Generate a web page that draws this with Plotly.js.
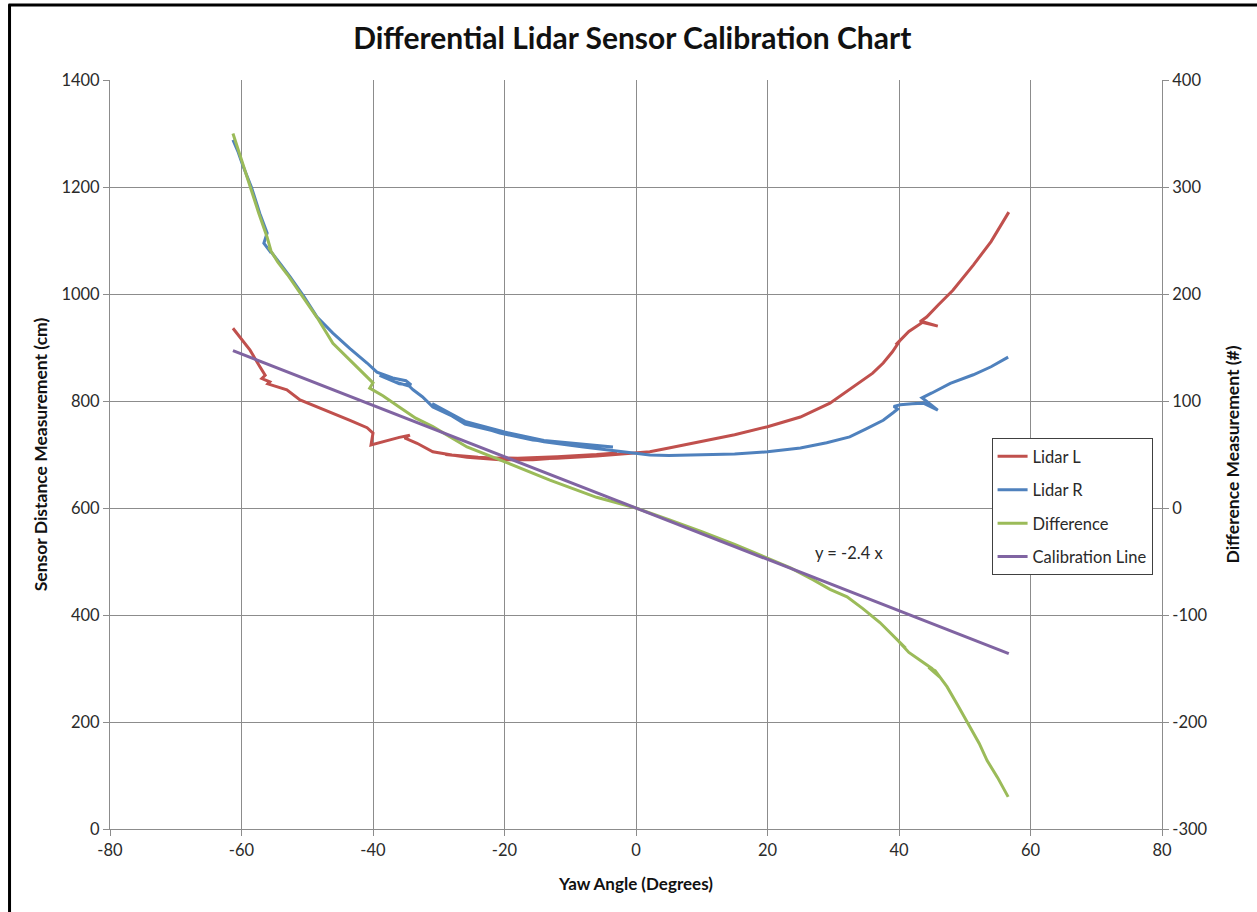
<!DOCTYPE html>
<html>
<head>
<meta charset="utf-8">
<script src="https://cdn.plot.ly/plotly-3.0.1.min.js"></script>
<style>html,body{margin:0;padding:0;background:#fff;}#chart{width:1257px;height:912px;}</style>
</head>
<body>
<div id="chart"></div>
<script>
// Lidar L (yaw in degrees, distance in cm)
const yawL = [-61.3,-60.0,-58.7,-57.2,-56.4,-56.9,-55.7,-56.0,-55.0,-53.1,-51.1,-48.5,-46.1,-43.5,-40.9,-40.0,-40.3,-38.0,-36.0,-34.4,-35.2,-33.3,-30.9,-28.0,-25.7,-20.7,-15.7,-10.5,-6.0,-2.9,-6.0,-12.0,-18.0,-24.0,-29.0,-24.0,-18.0,-12.0,-6.0,0.0,2.1,5.0,10.0,15.0,20.0,25.0,29.5,33.0,36.0,37.6,39.0,40.2,39.5,40.5,41.5,43.7,45.9,43.2,44.2,46.0,48.2,51.3,54.0,56.7];
const lidarL = [936,915,895,864,848,842,836,832,828,821,802,789,778,764,750,740,718,726,732,736,731,721,705,699,695,690,690,695,699,703,700,696,693,694,700,695,691,693,697,702,705,712,724,737,752,770,796,826,852,871,892,914,905,918,930,948,940,948,957,980,1007,1054,1098,1153];

// Lidar R
const yawR = [-61.3,-60.5,-59.8,-58.5,-57.2,-56.1,-56.6,-55.5,-55.9,-54.0,-52.6,-50.5,-48.5,-46.1,-43.5,-40.9,-39.4,-37.0,-35.0,-34.2,-36.0,-39.0,-36.5,-34.5,-33.9,-32.5,-30.9,-28.0,-25.7,-20.7,-15.7,-10.5,-6.0,-3.5,-8.0,-14.0,-20.0,-26.0,-31.0,-26.0,-20.0,-14.0,-8.0,-3.0,0.0,2.1,5.0,10.0,15.0,20.0,25.0,29.0,32.5,35.0,37.6,39.1,39.8,39.2,40.2,42.0,43.7,45.9,43.5,45.0,47.8,51.3,54.0,56.6];
const lidarR = [1288,1265,1240,1200,1150,1114,1095,1077,1085,1055,1032,995,957,927,898,871,854,843,838,830,832,848,835,828,821,808,789,772,759,740,727,721,716,714,719,726,742,762,795,757,739,724,714,706,701,699,698,699,701,705,712,722,733,748,764,778,785,790,793,795,796,783,806,815,833,849,864,882];

// Difference (right axis)
const yawD = [-61.3,-60.0,-58.7,-57.4,-56.1,-55.5,-55.9,-54.5,-53.0,-51.1,-48.5,-46.1,-43.0,-40.0,-40.5,-38.5,-35.9,-33.5,-30.9,-25.7,-20.7,-13.1,-6.0,0.0,5.0,10.0,15.0,20.0,23.5,26.9,29.5,32.1,34.5,37.1,39.8,41.0,40.0,41.5,43.2,45.0,46.2,44.5,45.5,47.3,49.0,50.8,52.2,53.4,55.0,56.6];
const diffVals = [350,325,300,276,253,240,244,230,218,201,178,154,135,117,112,105,94,84,76,57,45,26,10,0,-11,-22,-34,-47,-56,-67,-76,-83,-94,-107,-123,-131,-125,-135,-142,-150,-158,-149,-152,-167,-185,-205,-220,-236,-252,-270];

// Calibration line y = -2.4 x (right axis)
const calX = [-61.3, 56.7];
const calY = [147.1, -136.1];

const xTicks = [-80,-60,-40,-20,0,20,40,60,80];
const leftTicks = [0,200,400,600,800,1000,1200,1400];
const rightTicks = [-300,-200,-100,0,100,200,300,400];

const FONT = "Lato, 'Open Sans', sans-serif";
const TXT = '#2a2a2a';
const traces = [
  {x: yawL, y: lidarL, name: 'Lidar L', type: 'scatter', mode: 'lines', legendgroup: 'a',
   line: {color: '#C0504D', width: 3}},
  {x: yawR, y: lidarR, name: 'Lidar R', type: 'scatter', mode: 'lines', legendgroup: 'b',
   line: {color: '#4F81BD', width: 3}},
  {x: yawD, y: diffVals, name: 'Difference', type: 'scatter', mode: 'lines', yaxis: 'y2', legendgroup: 'c',
   line: {color: '#9BBB59', width: 3}},
  {x: calX, y: calY, name: 'Calibration Line', type: 'scatter', mode: 'lines', yaxis: 'y2', legendgroup: 'd',
   line: {color: '#8064A2', width: 3}}
];

const layout = {
  width: 1257, height: 912,
  margin: {l: 110, r: 95, t: 80, b: 83},
  paper_bgcolor: '#ffffff', plot_bgcolor: '#ffffff',
  font: {family: FONT, size: 16.5, color: TXT},
  title: {text: '<b>Differential Lidar Sensor Calibration Chart</b>', x: 0.503, xanchor: 'center', y: 0.958, yanchor: 'middle',
          font: {family: FONT, size: 30, color: '#111'}},
  showlegend: true,
  legend: {x: 0.838, y: 0.522, xanchor: 'left', yanchor: 'top', bgcolor: '#ffffff',
           bordercolor: '#404040', borderwidth: 1, tracegroupgap: 9, traceorder: 'grouped',
           font: {family: FONT, size: 16.5, color: TXT}},
  xaxis: {range: [-80, 80], tickvals: xTicks, ticktext: xTicks.map(String), showgrid: true,
          gridcolor: '#8c8c8c', gridwidth: 1, zeroline: false, showline: true, linecolor: '#8c8c8c',
          ticks: 'outside', ticklen: 6, tickcolor: '#8c8c8c', mirror: false,
          tickfont: {family: FONT, size: 16.5, color: TXT},
          title: {text: '<b>Yaw Angle (Degrees)</b>', standoff: 19, font: {family: FONT, size: 17, color: '#111'}}},
  yaxis: {range: [0, 1400], tickvals: leftTicks, ticktext: leftTicks.map(String), showgrid: true,
          gridcolor: '#8c8c8c', gridwidth: 1, zeroline: false, showline: true, linecolor: '#8c8c8c',
          ticks: 'outside', ticklen: 6, tickcolor: '#8c8c8c',
          tickfont: {family: FONT, size: 16.5, color: TXT},
          title: {text: '<b>Sensor Distance Measurement (cm)</b>', standoff: 9, font: {family: FONT, size: 17.5, color: '#111'}}},
  yaxis2: {range: [-300, 400], overlaying: 'y', side: 'right', tickvals: rightTicks, ticktext: rightTicks.map(String),
          showgrid: false, zeroline: false, showline: true, linecolor: '#8c8c8c',
          ticks: 'outside', ticklen: 6, tickcolor: '#8c8c8c',
          tickfont: {family: FONT, size: 16.5, color: TXT},
          title: {text: '<b>Difference Measurement (#)</b>', standoff: 20, font: {family: FONT, size: 17.5, color: '#111'}}},
  annotations: [{x: 32.5, y: 516, xref: 'x', yref: 'y', text: 'y = -2.4 x', showarrow: false,
                 font: {family: FONT, size: 16.5, color: TXT}}],
  shapes: [
    {type: 'line', xref: 'paper', yref: 'paper', x0: -0.0955, x1: -0.0955, y0: -0.12, y1: 1.101,
     line: {color: '#000', width: 3}},
    {type: 'line', xref: 'paper', yref: 'paper', x0: -0.0965, x1: 1.1, y0: 1.1, y1: 1.1,
     line: {color: '#000', width: 3}}
  ]
};

Plotly.newPlot('chart', traces, layout, {displayModeBar: false, staticPlot: true});
</script>
</body>
</html>
